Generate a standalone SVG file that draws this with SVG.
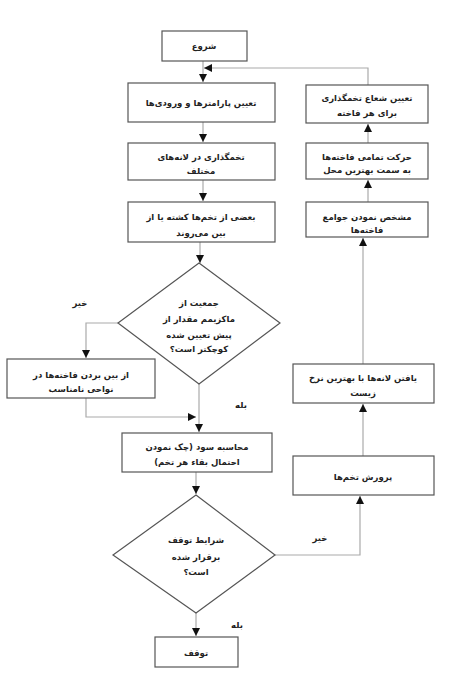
<svg xmlns="http://www.w3.org/2000/svg" width="474" height="684" viewBox="0 0 474 684">
<defs>
<style>
.box{fill:#fff;stroke:#555;stroke-width:1.2}
.ln{fill:none;stroke:#aaa;stroke-width:1.2}
.t{font-family:"DejaVu Sans",sans-serif;font-size:8.5px;font-weight:bold;fill:#222;text-anchor:middle;direction:rtl}
</style>
<marker id="ah" viewBox="0 0 10 10" refX="10" refY="5" markerWidth="8" markerHeight="8" markerUnits="userSpaceOnUse" orient="auto"><path d="M0,0 L10,5 L0,10 Z" fill="#111"/></marker>
</defs>
<rect width="474" height="684" fill="#fff"/>
<g id="connectors">
<path class="ln" d="M203,61 V82" marker-end="url(#ah)"/>
<path class="ln" d="M368,85 V68 H204" marker-end="url(#ah)"/>
<path class="ln" d="M203,122 V142" marker-end="url(#ah)"/>
<path class="ln" d="M203,180 V201" marker-end="url(#ah)"/>
<path class="ln" d="M200,242 V263" marker-end="url(#ah)"/>
<path class="ln" d="M118,323 H86 V358" marker-end="url(#ah)"/>
<path class="ln" d="M86,398 V417 H196" marker-end="url(#ah)"/>
<path class="ln" d="M199,384 V432" marker-end="url(#ah)"/>
<path class="ln" d="M196,472 V494" marker-end="url(#ah)"/>
<path class="ln" d="M196,613 V636" marker-end="url(#ah)"/>
<path class="ln" d="M275,555 H360 V496" marker-end="url(#ah)"/>
<path class="ln" d="M363,456 V404" marker-end="url(#ah)"/>
<path class="ln" d="M363,364 V238" marker-end="url(#ah)"/>
<path class="ln" d="M368,202 V180" marker-end="url(#ah)"/>
<path class="ln" d="M368,143 V124" marker-end="url(#ah)"/>
</g>
<g id="start"><rect class="box" x="162" y="31" width="85" height="30"/><text class="t" x="204" y="49">شروع</text></g>
<g id="params"><rect class="box" x="128" y="83" width="147" height="39"/><text class="t" x="201" y="106">تعیین پارامترها و ورودی‌ها</text></g>
<g id="laying"><rect class="box" x="128" y="143" width="147" height="37"/><text class="t" x="201" y="160">تخمگذاری در لانه‌های</text><text class="t" x="201" y="174">مختلف</text></g>
<g id="killed"><rect class="box" x="128" y="202" width="147" height="40"/><text class="t" x="201" y="220">بعضی از تخم‌ها کشته یا از</text><text class="t" x="201" y="236">بین می‌روند</text></g>
<g id="dec1"><polygon class="box" points="199,263 280,323 199,384 118,323"/><text class="t" x="199" y="306">جمعیت از</text><text class="t" x="199" y="322">ماکزیمم مقدار از</text><text class="t" x="199" y="338">پیش تعیین شده</text><text class="t" x="199" y="352">کوچکتر است؟</text></g>
<g id="remove"><rect class="box" x="7" y="359" width="148" height="39"/><text class="t" x="81" y="378">از بین بردن فاخته‌ها در</text><text class="t" x="81" y="392">نواحی نامناسب</text></g>
<g id="profit"><rect class="box" x="122" y="433" width="150" height="39"/><text class="t" x="197" y="450">محاسبه سود (چک نمودن</text><text class="t" x="197" y="465">احتمال بقاء هر تخم)</text></g>
<g id="dec2"><polygon class="box" points="196,495 275,555 196,613 113,555"/><text class="t" x="196" y="543">شرایط توقف</text><text class="t" x="196" y="560">برقرار شده</text><text class="t" x="196" y="575">است؟</text></g>
<g id="stop"><rect class="box" x="155" y="637" width="83" height="30"/><text class="t" x="196" y="656">توقف</text></g>
<g id="raise"><rect class="box" x="293" y="456" width="141" height="39"/><text class="t" x="363" y="480">پرورش تخم‌ها</text></g>
<g id="findnests"><rect class="box" x="293" y="364" width="141" height="39"/><text class="t" x="363" y="381">یافتن لانه‌ها با بهترین نرخ</text><text class="t" x="363" y="396">زیست</text></g>
<g id="groups"><rect class="box" x="306" y="202" width="122" height="35"/><text class="t" x="367" y="220">مشخص نمودن جوامع</text><text class="t" x="367" y="233">فاخته‌ها</text></g>
<g id="move"><rect class="box" x="306" y="143" width="122" height="36"/><text class="t" x="367" y="160">حرکت تمامی فاخته‌ها</text><text class="t" x="367" y="173">به سمت بهترین محل</text></g>
<g id="radius"><rect class="box" x="306" y="85" width="122" height="38"/><text class="t" x="367" y="101">تعیین شعاع تخمگذاری</text><text class="t" x="367" y="116">برای هر فاخته</text></g>
<g id="labels">
<text class="t" x="80" y="306">خیر</text>
<text class="t" x="241" y="408">بله</text>
<text class="t" x="237" y="628">بله</text>
<text class="t" x="320" y="541">خیر</text>
</g>
</svg>
